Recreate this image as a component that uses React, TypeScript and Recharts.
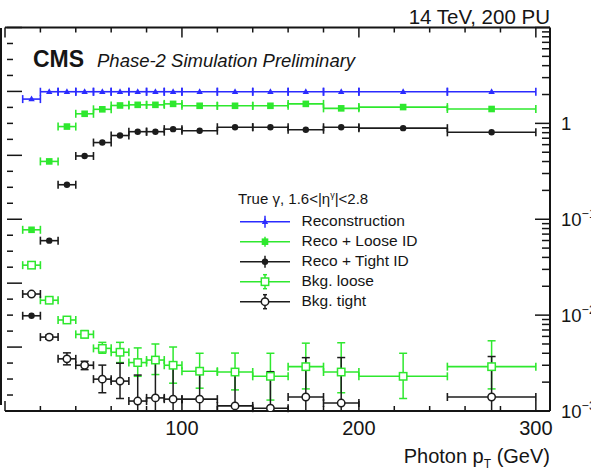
import React from "react"
import { ComposedChart, Scatter, XAxis, YAxis, ErrorBar, Legend } from "recharts"

const FONT = '"Liberation Sans", Arial, Helvetica, sans-serif'
const INK = "#151515"
const BLUE = "#2b2bff"
const GREEN = "#2ee82e"
const BLACK = "#1c1c1c"

// photon pT bins (GeV)
const binCenter = [15, 25, 35, 45, 55, 65, 75, 85, 95, 110, 130, 150, 170, 190, 225, 275]
const binHalf = [5, 5, 5, 5, 5, 5, 5, 5, 5, 10, 10, 10, 10, 10, 25, 25]

// true photon efficiencies (left axis, linear)
const effReco = [0.976, 0.999, 0.999, 0.999, 0.999, 0.999, 0.999, 0.999, 0.999, 0.999, 0.999, 0.999, 0.999, 0.999, 0.999, 0.999]
const effLoose = [0.567, 0.781, 0.89, 0.93, 0.944, 0.956, 0.958, 0.958, 0.961, 0.955, 0.955, 0.955, 0.961, 0.947, 0.951, 0.945]
const effTight = [0.298, 0.533, 0.708, 0.798, 0.84, 0.862, 0.874, 0.874, 0.882, 0.877, 0.888, 0.888, 0.88, 0.888, 0.885, 0.872]

// background efficiencies (right axis, log)
const bkgLoose = [0.0332, 0.0143, 0.0089, 0.0063, 0.0045, 0.0041, 0.0032, 0.0034, 0.003, 0.0026, 0.00255, 0.0023, 0.0029, 0.00255, 0.0023, 0.0029]
const bkgLooseLo = [0.0008, 0.0005, 0.0004, 0.0005, 0.0005, 0.0009, 0.0009, 0.001, 0.00105, 0.00087, 0.00089, 0.001, 0.0012, 0.001, 0.00095, 0.0012]
const bkgLooseHi = [0.0008, 0.0006, 0.0005, 0.0006, 0.0007, 0.0011, 0.00135, 0.0016, 0.00165, 0.0014, 0.00147, 0.0017, 0.0022, 0.0026, 0.0017, 0.0025]
const bkgTight = [0.0166, 0.0059, 0.0035, 0.003, 0.00215, 0.00205, 0.00127, 0.00137, 0.00133, 0.00133, 0.00113, 0.00107, 0.0014, 0.00121, null, 0.0014]
const bkgTightLo = [0.0004, 0.0003, 0.00047, 0.0003, 0.0006, 0.0007, 0.0009, 0.001, 0.001, 0.001, 0.0009, 0.0009, 0.0011, 0.001, null, 0.0011]
const bkgTightHi = [0.0004, 0.0003, 0.00054, 0.0003, 0.00086, 0.0011, 0.0011, 0.0018, 0.0019, 0.0012, 0.0014, 0.0015, 0.0022, 0.0024, null, 0.0023]

const LOG_MIN = 0.001
const xTicks = [0, 20, 40, 60, 80, 100, 120, 140, 160, 180, 200, 220, 240, 260, 280, 300]
const linTicks = Array.from({ length: 25 }, (_, i) => +(i * 0.05).toFixed(2))
const logDecades = [0.001, 0.01, 0.1, 1]
const logTicks = [...logDecades.flatMap((d) => [1, 2, 3, 4, 5, 6, 7, 8, 9].map((k) => +(k * d).toPrecision(3))), 10]

const legendRows = [
  { label: "Reconstruction", color: BLUE, kind: "tri", v: 6 },
  { label: "Reco + Loose ID", color: GREEN, kind: "sq", v: 5 },
  { label: "Reco + Tight ID", color: BLACK, kind: "dot", v: 6 },
  { label: "Bkg. loose", color: GREEN, kind: "osq", v: 7 },
  { label: "Bkg. tight", color: BLACK, kind: "ocirc", v: 7 },
]

// error bars that run below the frame stop at the frame, as in the original
const points = (vals: (number | null)[], lo?: (number | null)[], hi?: (number | null)[]) =>
  binCenter
    .map((x, i) => {
      const y = vals[i]
      const ey = lo && hi && y != null ? [Math.min(lo[i] as number, y - LOG_MIN), hi[i]] : 0
      return { x, y, ex: binHalf[i], ey }
    })
    .filter((p) => p.y != null)

const recoPts = points(effReco)
const loosePts = points(effLoose)
const tightPts = points(effTight)
const bkgLoosePts = points(bkgLoose, bkgLooseLo, bkgLooseHi)
const bkgTightPts = points(bkgTight, bkgTightLo, bkgTightHi)

function Marker({ kind, cx, cy, color }: any) {
  if (kind === "tri") return <path d={`M${cx} ${cy - 3.6}L${cx + 3.2} ${cy + 2.2}L${cx - 3.2} ${cy + 2.2}Z`} fill={color} />
  if (kind === "sq") return <rect x={cx - 3.3} y={cy - 3.3} width={6.6} height={6.6} fill={color} />
  if (kind === "dot") return <circle cx={cx} cy={cy} r={3.2} fill={color} />
  if (kind === "osq") return <rect x={cx - 3.7} y={cy - 3.7} width={7.4} height={7.4} fill="#fff" stroke={color} strokeWidth={1.5} />
  return <circle cx={cx} cy={cy} r={3.7} fill="#fff" stroke={color} strokeWidth={1.5} />
}

const XTick = (p: any) => {
  const v = p.payload.value
  const ay = p.y - 24
  const major = v % 100 === 0
  return (
    <g>
      <line x1={p.x} x2={p.x} y1={ay} y2={ay - (major ? 10 : 5)} stroke={INK} strokeWidth={1.5} />
      {major && v > 0 && (
        <text x={p.x} y={p.y} textAnchor="middle" fontSize={20} fill={INK} fontFamily={FONT}>
          {v}
        </text>
      )}
    </g>
  )
}

const TopTick = (p: any) => {
  const major = p.payload.value % 100 === 0
  return <line x1={p.x} x2={p.x} y1={p.y} y2={p.y + (major ? 10 : 5)} stroke={INK} strokeWidth={1.5} />
}

const LinTick = (p: any) => {
  const v = p.payload.value / 0.2
  const major = Math.abs(v - Math.round(v)) < 1e-6
  const x0 = p.x + 2
  return <line x1={x0} x2={x0 + (major ? 15 : 6)} y1={p.y} y2={p.y} stroke={INK} strokeWidth={1.5} />
}

const LogTick = (p: any) => {
  const lg = Math.log10(p.payload.value)
  const exp = Math.round(lg)
  const decade = Math.abs(lg - exp) < 1e-6
  const ax = p.x - 11
  return (
    <g>
      <line x1={ax - (decade ? 15 : 8)} x2={ax} y1={p.y} y2={p.y} stroke={INK} strokeWidth={1.5} />
      {decade && exp <= 0 && (
        <text x={p.x} y={p.y + 7} fontSize={18.5} fill={INK} fontFamily={FONT}>
          {exp === 0 ? "1" : "10"}
          {exp < 0 && (
            <tspan dy={-8} fontSize={12.5}>
              {"\u2212" + -exp}
            </tspan>
          )}
        </text>
      )}
    </g>
  )
}

const AxisTitle = (p: any) => {
  const vb = p.viewBox
  return (
    <text x={vb.x + vb.width} y={vb.y + 52} textAnchor="end" fontSize={20} fill={INK} fontFamily={FONT}>
      Photon p
      <tspan dy={5} fontSize={12}>T</tspan>
      <tspan dy={-5}> (GeV)</tspan>
    </text>
  )
}

const LegendBox = () => (
  <svg width={240} height={130} style={{ display: "block" }}>
    <text x={8} y={19} fontSize={15} fill={INK} fontFamily={FONT}>
      True γ, 1.6&lt;|η<tspan dy={-6} fontSize={9}>γ</tspan>
      <tspan dy={6}>|&lt;2.8</tspan>
    </text>
    {legendRows.map((r, i) => {
      const y = 36.7 + i * 20
      return (
        <g key={r.label}>
          <line x1={10} x2={60} y1={y} y2={y} stroke={r.color} strokeWidth={1.6} />
          <line x1={35} x2={35} y1={y - r.v} y2={y + r.v} stroke={r.color} strokeWidth={1.5} />
          {r.v >= 7 && (
            <>
              <line x1={33} x2={37} y1={y - r.v} y2={y - r.v} stroke={r.color} strokeWidth={1.5} />
              <line x1={33} x2={37} y1={y + r.v} y2={y + r.v} stroke={r.color} strokeWidth={1.5} />
            </>
          )}
          <Marker kind={r.kind} cx={35} cy={y} color={r.color} />
          <text x={71.5} y={y + 4.5} fontSize={15.5} fill={INK} fontFamily={FONT}>
            {r.label}
          </text>
        </g>
      )
    })}
  </svg>
)

function series(id: string, yAxis: string, data: any[], kind: string, color: string, yErr: boolean) {
  return (
    <Scatter
      key={id}
      name={id}
      xAxisId="b"
      yAxisId={yAxis}
      data={data}
      isAnimationActive={false}
      shape={(p: any) => <Marker kind={kind} cx={p.cx} cy={p.cy} color={color} />}
    >
      <ErrorBar dataKey="ex" direction="x" width={4} stroke={color} strokeWidth={1.6} isAnimationActive={false} />
      {yErr && <ErrorBar dataKey="ey" direction="y" width={4} stroke={color} strokeWidth={1.5} isAnimationActive={false} />}
    </Scatter>
  )
}

export default function App() {
  return (
    <div style={{ position: "absolute", left: 0, top: 0, width: 591, height: 472, background: "#fff" }}>
      <ComposedChart width={591} height={472} margin={{ top: 26.5, right: 0, bottom: 0, left: 4 }}>
        <XAxis
          xAxisId="b"
          dataKey="x"
          type="number"
          domain={[0, 308]}
          allowDataOverflow
          ticks={xTicks}
          interval={0}
          height={61}
          tickSize={0}
          tickMargin={24}
          tick={XTick}
          axisLine={{ stroke: INK, strokeWidth: 2 }}
          label={{ content: AxisTitle }}
        />
        <XAxis
          xAxisId="t"
          orientation="top"
          dataKey="x"
          type="number"
          domain={[0, 308]}
          allowDataOverflow
          ticks={xTicks}
          interval={0}
          height={1}
          tickSize={0}
          tickMargin={0}
          tick={TopTick}
          axisLine={{ stroke: INK, strokeWidth: 2 }}
        />
        <YAxis
          yAxisId="lin"
          dataKey="y"
          type="number"
          domain={[0, 1.2]}
          allowDataOverflow
          ticks={linTicks}
          interval={0}
          width={1}
          tickSize={0}
          tickMargin={0}
          tick={LinTick}
          axisLine={false}
        />
        <YAxis
          yAxisId="log"
          orientation="right"
          dataKey="y"
          type="number"
          scale="log"
          domain={[0.001, 10]}
          allowDataOverflow
          ticks={logTicks}
          interval={0}
          width={41}
          tickSize={0}
          tickMargin={11}
          tick={LogTick}
          axisLine={{ stroke: INK, strokeWidth: 2 }}
        />
        <Legend
          layout="vertical"
          align="center"
          verticalAlign="middle"
          content={LegendBox}
          wrapperStyle={{ left: 230, top: 185, width: 240 }}
        />
        {series("bkgLoose", "log", bkgLoosePts, "osq", GREEN, true)}
        {series("bkgTight", "log", bkgTightPts, "ocirc", BLACK, true)}
        {series("reco", "lin", recoPts, "tri", BLUE, false)}
        {series("loose", "lin", loosePts, "sq", GREEN, false)}
        {series("tight", "lin", tightPts, "dot", BLACK, false)}
      </ComposedChart>
      <svg width={591} height={472} style={{ position: "absolute", left: 0, top: 0, pointerEvents: "none" }}>
        <line x1={1} x2={1} y1={28} y2={405} stroke={INK} strokeWidth={2} />
        <text x={550} y={24} textAnchor="end" fontSize={20.5} fill={INK} fontFamily={FONT}>
          14 TeV, 200 PU
        </text>
        <text x={33} y={66.5} fontSize={23} fontWeight="bold" fill={INK} fontFamily={FONT}>
          CMS
        </text>
        <text x={97} y={66.5} fontSize={18.5} fontStyle="italic" fill={INK} fontFamily={FONT}>
          Phase-2 Simulation Preliminary
        </text>
      </svg>
    </div>
  )
}
